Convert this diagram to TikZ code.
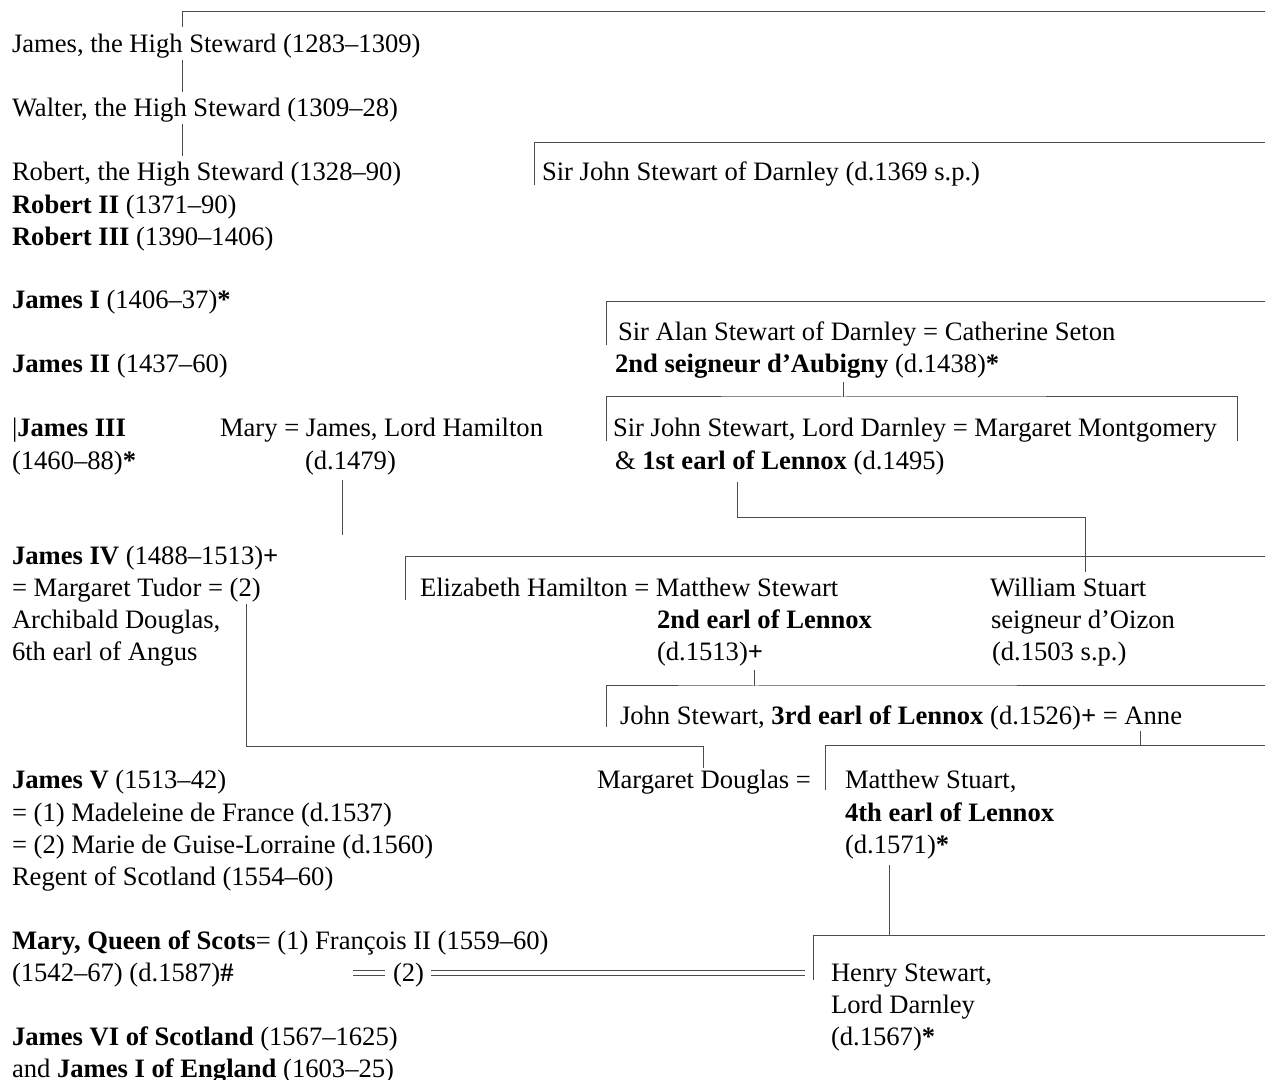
\documentclass[tikz,border=0pt]{standalone}
\usepackage{fontspec}
\setmainfont{Liberation Serif}
\usepackage{tikz}

\begin{document}
\begin{tikzpicture}[x=0.5pt,y=-0.5pt,
    entry/.style={anchor=base west,inner sep=0pt,outer sep=0pt,font=\fontsize{13.3}{16}\selectfont},
    tie/.style={line width=0.5pt,black!70},
    wed/.style={line width=0.5pt,black!70,double,double distance=2pt}]
    \useasboundingbox (0,0) rectangle (1265,1080);

    \node[entry] (jamesHS) at (12,53) {James, the High Steward (1283--1309)};
    \node[entry] (walterHS) at (12,117) {Walter, the High Steward (1309--28)};
    \node[entry] (robertHS) at (12,181) {Robert, the High Steward (1328--90)};
    \node[entry] (robertII) at (12,214) {\textbf{Robert II} (1371--90)};
    \node[entry] (robertIII) at (12,246) {\textbf{Robert III} (1390--1406)};
    \node[entry] (jamesI) at (12,309) {\textbf{James I} (1406--37)\textbf{*}};
    \node[entry] (jamesII) at (12,373) {\textbf{James II} (1437--60)};
    \node[entry] (jamesIII) at (12,437) {|\textbf{James III}};
    \node[entry] (jamesIIIb) at (12,470) {(1460--88)\textbf{*}};
    \node[entry] (jamesIV) at (12,565) {\textbf{James IV} (1488--1513)\textbf{+}};
    \node[entry] (mTudor) at (12,597) {= Margaret Tudor = (2)};
    \node[entry] (archibald) at (12,629) {Archibald Douglas,};
    \node[entry] (angus) at (12,661) {6th earl of Angus};
    \node[entry] (jamesV) at (12,789) {\textbf{James V} (1513--42)};
    \node[entry] (madeleine) at (12,821) {= (1) Madeleine de France (d.1537)};
    \node[entry] (marie) at (12,853) {= (2) Marie de Guise-Lorraine (d.1560)};
    \node[entry] (regent) at (12,885) {Regent of Scotland (1554--60)};
    \node[entry] (mqs) at (12,949) {\textbf{Mary, Queen of Scots}= (1) François II (1559--60)};
    \node[entry] (mqsb) at (12,981) {(1542--67) (d.1587)\textbf{\#}};
    \node[entry] (mqsTwo) at (393,981) {(2)};
    \node[entry] (jamesVI) at (12,1045) {\textbf{James VI of Scotland} (1567--1625)};
    \node[entry] (jamesVIb) at (12,1077) {and \textbf{James I of England} (1603--25)};

    \node[entry] (maryH) at (220,437) {Mary = James, Lord Hamilton};
    \node[entry] (hamiltonD) at (305,470) {(d.1479)};
    \node[entry] (johnD) at (542,181) {Sir John Stewart of Darnley (d.1369 s.p.)};
    \node[entry] (alan) at (618,341) {Sir Alan Stewart of Darnley = Catherine Seton};
    \node[entry] (aubigny) at (615,373) {\textbf{2nd seigneur d’Aubigny} (d.1438)\textbf{*}};
    \node[entry] (johnL) at (613,437) {Sir John Stewart, Lord Darnley = Margaret Montgomery};
    \node[entry] (lennoxI) at (615,470) {\& \textbf{1st earl of Lennox} (d.1495)};
    \node[entry] (elizabeth) at (420,597) {Elizabeth Hamilton = Matthew Stewart};
    \node[entry] (matthewII) at (657,629) {\textbf{2nd earl of Lennox}};
    \node[entry] (matthewIIc) at (657,661) {(d.1513)\textbf{+}};
    \node[entry] (william) at (990,597) {William Stuart};
    \node[entry] (oizon) at (991,629) {seigneur d’Oizon};
    \node[entry] (oizonD) at (992,661) {(d.1503 s.p.)};
    \node[entry] (johnIII) at (620,725) {John Stewart, \textbf{3rd earl of Lennox} (d.1526)\textbf{+} = Anne};
    \node[entry] (mDouglas) at (597,789) {Margaret Douglas =};
    \node[entry] (matthewIV) at (845,789) {Matthew Stuart,};
    \node[entry] (matthewIVb) at (845,821) {\textbf{4th earl of Lennox}};
    \node[entry] (matthewIVc) at (845,853) {(d.1571)\textbf{*}};
    \node[entry] (henry) at (831,981) {Henry Stewart,};
    \node[entry] (henryb) at (831,1013) {Lord Darnley};
    \node[entry] (henryc) at (831,1045) {(d.1567)\textbf{*}};

    \coordinate (stem) at (182,0);
    \coordinate (rimA) at (1265,12);
    \coordinate (rimB) at (1265,143);
    \coordinate (rimC) at (1265,302);
    \coordinate (tickC) at (843,397);
    \coordinate (lenR) at (1237,441);
    \coordinate (drop) at (737,0);
    \coordinate (forkW) at (1085,518);
    \coordinate (rimE) at (1265,557);
    \coordinate (tickJ) at (754,686);
    \coordinate (rimF) at (1265,686);
    \coordinate (tudorDrop) at (246,746);
    \coordinate (anneDrop) at (1140,745);
    \coordinate (rimG) at (1265,745);
    \coordinate (henryFork) at (889,935);
    \coordinate (rimH) at (1265,935);
    \coordinate (hamiltonEnd) at (342,535);

    \draw[tie] ([yshift=13pt]jamesHS.base -| stem) |- (rimA);
    \draw[tie] ([yshift=-3.5pt]jamesHS.base -| stem) -- ([yshift=12.5pt]walterHS.base -| stem);
    \draw[tie] ([yshift=-3.5pt]walterHS.base -| stem) -- ([yshift=12.5pt]robertHS.base -| stem);
    \draw[tie] ([shift={(-4pt,-2pt)}]johnD.base west) |- (rimB);

    \draw[tie] ([shift={(-6pt,-2pt)}]alan.base west) |- (rimC);
    \draw[tie] ([yshift=-4.5pt]aubigny.base -| tickC) -- (tickC);
    \draw[tie] ([shift={(-3.5pt,-2pt)}]johnL.base west) |- (tickC) -| (lenR);
    \draw[tie] ([yshift=-6pt]lennoxI.base -| drop) |- (forkW) -- ([yshift=12.5pt]william.base -| forkW);
    \draw[tie] ([yshift=-5pt]hamiltonD.base -| hamiltonEnd) -- (hamiltonEnd);

    \draw[tie] ([shift={(-7.5pt,-1.5pt)}]elizabeth.base west) |- (rimE);
    \draw[tie] ([yshift=-4.5pt]matthewIIc.base -| tickJ) -- (tickJ);
    \draw[tie] ([shift={(-7pt,-1pt)}]johnIII.base west) |- (tickJ) -- (rimF);
    \draw[tie] ([yshift=-3.5pt]mTudor.base -| tudorDrop) -- (tudorDrop) -| ([yshift=10.5pt]mDouglas.base);
    \draw[tie] ([yshift=-3pt]johnIII.base -| anneDrop) -- (anneDrop);
    \draw[tie] ([shift={(-10pt,-0.5pt)}]matthewIV.base west) |- (rimG);

    \draw[tie] ([yshift=-6pt]matthewIVc.base -| henryFork) -- (henryFork);
    \draw[tie] ([shift={(-9pt,0.5pt)}]henry.base west) |- (rimH);
    \draw[wed] ([shift={(-20pt,4.25pt)}]mqsTwo.base west) -- ([shift={(-4pt,4.25pt)}]mqsTwo.base west);
    \draw[wed] ([shift={(3.5pt,4.25pt)}]mqsTwo.base east) -- ([shift={(-13pt,4.25pt)}]henry.base west);
\end{tikzpicture}
\end{document}
